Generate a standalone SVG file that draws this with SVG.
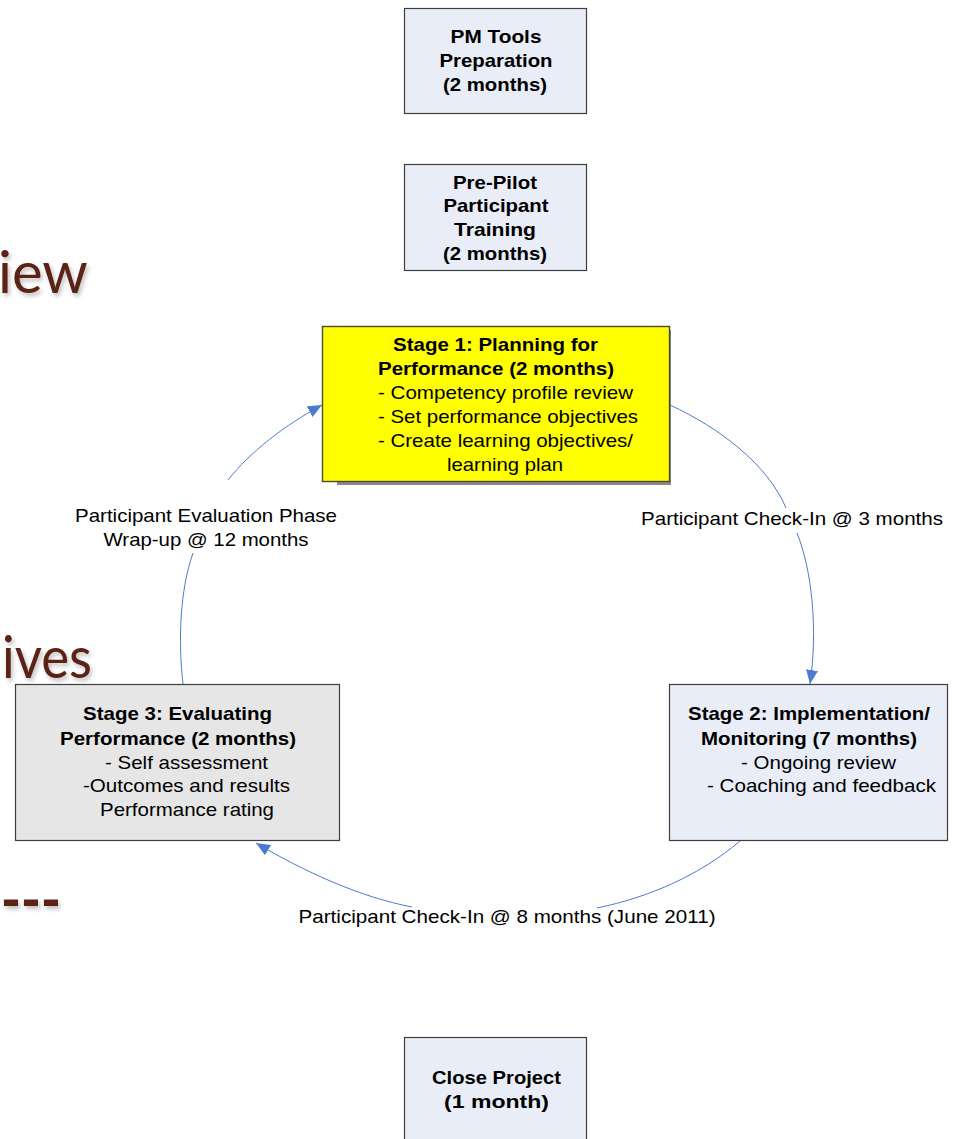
<svg xmlns="http://www.w3.org/2000/svg" width="955" height="1139" viewBox="0 0 955 1139">
  <defs>
    <style>
      .box { stroke: #3f3f3f; stroke-width: 1.2; }
      .blue { fill: #e8edf7; }
      .grey { fill: #e6e6e6; }
      .yellow { fill: #ffff00; stroke: #4a4a30; stroke-width: 1.4; }
      .t { font-family: "Liberation Sans", Arial, sans-serif; font-size: 18.5px; fill: #000; text-anchor: middle; }
      .b { font-weight: bold; }
      .lbl { font-family: "Liberation Sans", Arial, sans-serif; font-size: 18.5px; fill: #000; text-anchor: middle; }
      .conn { fill: none; stroke: #4a7bd0; stroke-width: 1; }
      .bg { font-family: Lato, "Open Sans", sans-serif; font-size: 58px; fill: #5b2315; }
    </style>
    <marker id="arrow" viewBox="0 0 14 12" refX="14" refY="6" markerWidth="14" markerHeight="12" markerUnits="userSpaceOnUse" orient="auto">
      <path d="M0,0 L14,6 L0,12 z" fill="#4a7bd0"/>
    </marker>
    <filter id="soft" x="-10%" y="-10%" width="130%" height="140%">
      <feDropShadow dx="2" dy="3" stdDeviation="2" flood-color="#000" flood-opacity="0.25"/>
    </filter>
  </defs>

  <rect width="955" height="1139" fill="#ffffff"/>

  <!-- slide heading fragments behind the chart -->
  <g id="background-text" filter="url(#soft)">
    <text class="bg" x="-2" y="293">iew</text>
    <text class="bg" x="2" y="678" font-size="60" textLength="90" lengthAdjust="spacingAndGlyphs">ives</text>
    <text class="bg" x="1" y="920" font-size="64" font-weight="900" textLength="60" lengthAdjust="spacingAndGlyphs">---</text>
  </g>

  <!-- connectors -->
  <g id="connectors">
    <path class="conn" d="M670,405 C720,428 768,465 786,508"/>
    <path class="conn" d="M797,533 C812,570 818,630 810,684" marker-end="url(#arrow)"/>
    <path class="conn" d="M740,841 C700,875 650,897 597,908"/>
    <path class="conn" d="M412,907 C360,897 305,872 256,843" marker-end="url(#arrow)"/>
    <path class="conn" d="M183,684 C178,640 180,590 193,553"/>
    <path class="conn" d="M228,480 C250,452 285,425 322,405" marker-end="url(#arrow)"/>
  </g>

  <g id="connector-labels">
    <text class="lbl" x="792" y="525" textLength="302" lengthAdjust="spacingAndGlyphs">Participant Check-In @ 3 months</text>
    <text class="lbl" x="507" y="923" textLength="417" lengthAdjust="spacingAndGlyphs">Participant Check-In @ 8 months (June 2011)</text>
    <text class="lbl" x="206" y="522" textLength="262" lengthAdjust="spacingAndGlyphs">Participant Evaluation Phase</text>
    <text class="lbl" x="206" y="546" textLength="205" lengthAdjust="spacingAndGlyphs">Wrap-up @ 12 months</text>
  </g>

  <g id="pm-tools">
    <rect class="box blue" x="404.5" y="8.5" width="182" height="105"/>
    <text class="t b" x="496" y="43" textLength="91" lengthAdjust="spacingAndGlyphs">PM Tools</text>
    <text class="t b" x="496" y="67" textLength="113" lengthAdjust="spacingAndGlyphs">Preparation</text>
    <text class="t b" x="495" y="91" textLength="104" lengthAdjust="spacingAndGlyphs">(2 months)</text>
  </g>

  <g id="pre-pilot">
    <rect class="box blue" x="404.5" y="164.5" width="182" height="106"/>
    <text class="t b" x="495" y="189" textLength="84" lengthAdjust="spacingAndGlyphs">Pre-Pilot</text>
    <text class="t b" x="496" y="212" textLength="105" lengthAdjust="spacingAndGlyphs">Participant</text>
    <text class="t b" x="495" y="236" textLength="82" lengthAdjust="spacingAndGlyphs">Training</text>
    <text class="t b" x="495" y="260" textLength="104" lengthAdjust="spacingAndGlyphs">(2 months)</text>
  </g>

  <g id="stage1">
    <rect x="337" y="330" width="334" height="155" fill="#8a8a8a"/>
    <rect class="yellow" x="322.5" y="326.5" width="347" height="155"/>
    <text class="t b" x="495.5" y="351" textLength="205" lengthAdjust="spacingAndGlyphs">Stage 1: Planning for</text>
    <text class="t b" x="496" y="375" textLength="236" lengthAdjust="spacingAndGlyphs">Performance (2 months)</text>
    <text class="t" x="505.5" y="399" textLength="255" lengthAdjust="spacingAndGlyphs">- Competency profile review</text>
    <text class="t" x="508" y="423" textLength="260" lengthAdjust="spacingAndGlyphs">- Set performance objectives</text>
    <text class="t" x="505.5" y="447" textLength="255" lengthAdjust="spacingAndGlyphs">- Create learning objectives/</text>
    <text class="t" x="505" y="471" textLength="116" lengthAdjust="spacingAndGlyphs">learning plan</text>
  </g>

  <g id="stage2">
    <rect class="box blue" x="669.5" y="684.5" width="278" height="156"/>
    <text class="t b" x="809" y="720" textLength="242" lengthAdjust="spacingAndGlyphs">Stage 2: Implementation/</text>
    <text class="t b" x="809" y="745" textLength="216" lengthAdjust="spacingAndGlyphs">Monitoring (7 months)</text>
    <text class="t" x="818.5" y="769" textLength="155" lengthAdjust="spacingAndGlyphs">- Ongoing review</text>
    <text class="t" x="821.5" y="792" textLength="229" lengthAdjust="spacingAndGlyphs">- Coaching and feedback</text>
  </g>

  <g id="stage3">
    <rect class="box grey" x="15.5" y="684.5" width="324" height="156"/>
    <text class="t b" x="177.5" y="720" textLength="189" lengthAdjust="spacingAndGlyphs">Stage 3: Evaluating</text>
    <text class="t b" x="178" y="745" textLength="236" lengthAdjust="spacingAndGlyphs">Performance (2 months)</text>
    <text class="t" x="186.5" y="769" textLength="163" lengthAdjust="spacingAndGlyphs">- Self assessment</text>
    <text class="t" x="186.5" y="792" textLength="207" lengthAdjust="spacingAndGlyphs">-Outcomes and results</text>
    <text class="t" x="187" y="816" textLength="174" lengthAdjust="spacingAndGlyphs">Performance rating</text>
  </g>

  <g id="close-project">
    <rect class="box blue" x="404.5" y="1037.5" width="182" height="110"/>
    <text class="t b" x="496.5" y="1084" textLength="129" lengthAdjust="spacingAndGlyphs">Close Project</text>
    <text class="t b" x="496.5" y="1108" textLength="105" lengthAdjust="spacingAndGlyphs">(1 month)</text>
  </g>
</svg>
